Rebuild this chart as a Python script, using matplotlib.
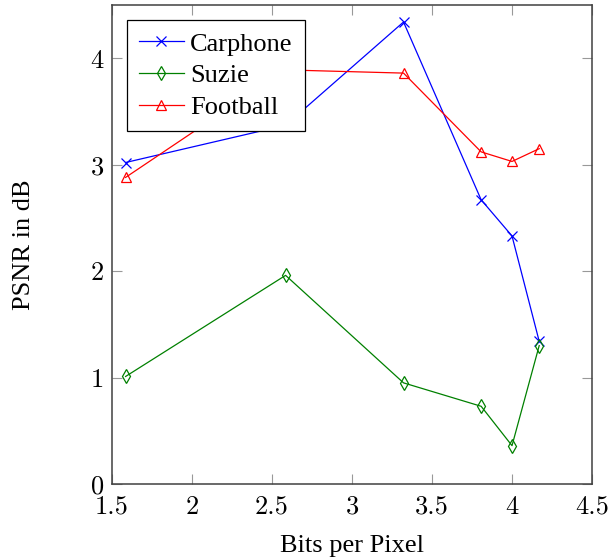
import matplotlib

matplotlib.use("Agg")
import matplotlib.pyplot as plt

# bits per pixel (log2 of 3, 6, 10, 14, 16, 18)
bpp = [1.585, 2.585, 3.322, 3.807, 4.0, 4.17]
carphone = [3.02, 3.37, 4.34, 2.67, 2.33, 1.34]
suzie = [1.01, 1.96, 0.95, 0.73, 0.36, 1.30]
football = [2.88, 3.89, 3.86, 3.12, 3.03, 3.15]

x_ticks = [1.5, 2, 2.5, 3, 3.5, 4, 4.5]
x_tick_labels = ["1.5", "2", "2.5", "3", "3.5", "4", "4.5"]
y_ticks = [0, 1, 2, 3, 4]
y_tick_labels = ["0", "1", "2", "3", "4"]

plt.rcParams["font.family"] = ["Liberation Serif", "DejaVu Serif"]

fig = plt.figure(figsize=(6.09, 5.59), dpi=100)
ax = fig.add_axes([0.1839, 0.1342, 0.7882, 0.8569])

ax.plot(bpp, carphone, color="blue", lw=0.9, marker="x", ms=6.5, mew=0.9, label="Carphone")
ax.plot(bpp, suzie, color="#008000", lw=0.9, marker="d", ms=7, mew=0.9,
        mfc="none", label="Suzie")
ax.plot(bpp, football, color="red", lw=0.9, marker="^", ms=7, mew=0.9,
        mfc="none", label="Football")

ax.set_xlim(1.5, 4.5)
ax.set_ylim(0, 4.5)
ax.set_xticks(x_ticks)
ax.set_xticklabels(x_tick_labels)
ax.set_yticks(y_ticks)
ax.set_yticklabels(y_tick_labels)
ax.tick_params(direction="in", top=True, right=True, length=7, width=0.8,
               color="#999999", labelsize=19, labelfontfamily="cmr10", pad=6)
ax.tick_params(axis="x", pad=8)

for spine in ax.spines.values():
    spine.set_color("#404040")
    spine.set_linewidth(1.1)

ax.set_xlabel("Bits per Pixel", fontsize=19, labelpad=12)
ax.set_ylabel("PSNR in dB", fontsize=19, labelpad=40)

leg = ax.legend(loc="upper left", bbox_to_anchor=(0.031, 0.968), fontsize=19,
                frameon=True, fancybox=False, edgecolor="black", framealpha=1,
                handlelength=1.7, handletextpad=0.25, borderpad=0.45,
                labelspacing=0.31, borderaxespad=0)
leg.get_frame().set_linewidth(0.9)

fig.savefig("out.png", dpi=100)
